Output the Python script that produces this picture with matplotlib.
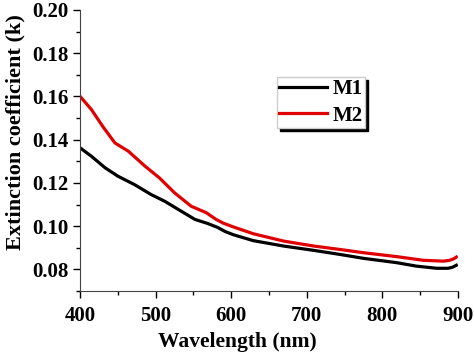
import matplotlib.pyplot as plt
from matplotlib.ticker import MultipleLocator

plt.rcParams['font.family'] = 'Liberation Serif'
plt.rcParams['font.weight'] = 'bold'

wl_m1 = [400, 415, 433, 450, 472, 494, 512, 530, 552, 569, 582, 592, 603, 629,
         669, 709, 744, 775, 819, 845, 872, 887, 893, 898]
k_m1 = [0.1362, 0.1323, 0.1270, 0.1231, 0.1192, 0.1146, 0.1115, 0.1077, 0.1031,
        0.1012, 0.0994, 0.0975, 0.0960, 0.0933, 0.0908, 0.0888, 0.0869, 0.0851,
        0.0831, 0.0815, 0.0805, 0.0805, 0.0810, 0.0819]

wl_m2 = [400, 415, 430, 446, 464, 486, 505, 525, 547, 567, 580, 590, 603, 629,
         669, 709, 744, 775, 819, 854, 881, 889, 894, 898]
k_m2 = [0.1600, 0.1539, 0.1461, 0.1385, 0.1346, 0.1277, 0.1223, 0.1154, 0.1092,
        0.1062, 0.1031, 0.1013, 0.0996, 0.0965, 0.0931, 0.0908, 0.0892, 0.0877,
        0.0859, 0.0842, 0.0838, 0.0842, 0.0848, 0.0857]

fig = plt.figure(figsize=(4.74, 3.54), dpi=100)
ax = fig.add_axes([0.169, 0.178, 0.797, 0.794])

ax.plot(wl_m1, k_m1, color='black', lw=2.3, label='M1')
ax.plot(wl_m2, k_m2, color='#e00000', lw=2.3, label='M2')

ax.set_xlim(400, 900)
ax.set_ylim(0.07, 0.20)
ax.set_xticks([400, 500, 600, 700, 800, 900])
ax.set_yticks([0.08, 0.10, 0.12, 0.14, 0.16, 0.18, 0.20])
ax.xaxis.set_minor_locator(MultipleLocator(50))
ax.yaxis.set_minor_locator(MultipleLocator(0.01))
ax.tick_params(which='major', length=5, width=1, labelsize=15, direction='out')
ax.tick_params(axis='x', which='major', pad=6)
ax.tick_params(which='minor', length=3, width=1, direction='out')
for s in ['top', 'right']:
    ax.spines[s].set_visible(False)
for s in ['left', 'bottom']:
    ax.spines[s].set_color('#444444')

ax.set_xlabel('Wavelength (nm)', fontsize=15.5, fontweight='bold')
ax.xaxis.set_label_coords(0.415, -0.145)
ax.set_ylabel('Extinction coefficient (k)', fontsize=16, fontweight='bold')
ax.yaxis.set_label_coords(-0.145, 0.565)

leg = ax.legend(loc='upper left', bbox_to_anchor=(0.521, 0.762), borderaxespad=0,
                fancybox=False, framealpha=1, edgecolor='#cccccc',
                shadow={'color': 'black', 'alpha': 1},
                prop={'size': 15, 'weight': 'bold'}, handlelength=2.3,
                handletextpad=0.25, borderpad=0.12, labelspacing=0.3)

fig.savefig('out.png', dpi=100)
